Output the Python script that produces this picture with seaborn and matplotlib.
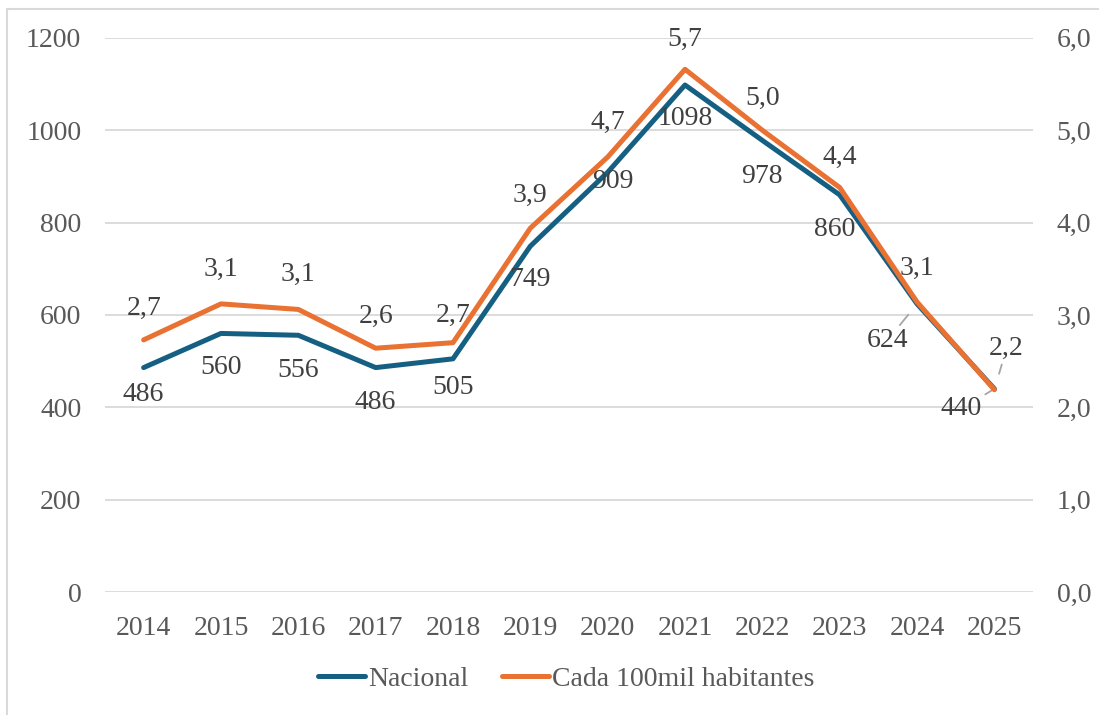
import matplotlib
matplotlib.use("Agg")
import matplotlib.pyplot as plt
import seaborn as sns
import pandas as pd
from matplotlib.lines import Line2D

years = [2014, 2015, 2016, 2017, 2018, 2019, 2020, 2021, 2022, 2023, 2024, 2025]
nacional = [486, 560, 556, 486, 505, 749, 909, 1098, 978, 860, 624, 440]
tasa = [2.73, 3.12, 3.06, 2.64, 2.70, 3.94, 4.71, 5.66, 5.0, 4.38, 3.14, 2.19]
tasa_labels = ["2,7", "3,1", "3,1", "2,6", "2,7", "3,9", "4,7", "5,7", "5,0", "4,4", "3,1", "2,2"]

# label offsets in pixels (dx, dy)
nac_off = [(0, -27), (0, -34), (0, -35), (0, -35), (0, -29), (0, -33),
           (5, -9), (0, -34), (0, -36), (-5, -35), (-30, -37), (-33, -20)]
tasa_off = [(0, 31), (0, 34), (0, 35), (0, 32), (0, 27), (0, 33),
            (0, 35), (0, 30), (0, 32), (0, 30), (0, 34), (12, 41)]

blue = "#156082"
orange = "#E97132"
gray = "#595959"

sns.set_theme(style="white")
plt.rcParams['font.family'] = ['Liberation Serif', 'DejaVu Serif']

df = pd.DataFrame({"year": years, "nacional": nacional, "tasa": tasa})

fig = plt.figure(figsize=(10.99, 7.15), dpi=100)
ax = fig.add_axes([0.0955, 0.172, 0.8445, 0.775])
ax2 = ax.twinx()

sns.lineplot(data=df, x="year", y="nacional", ax=ax, color=blue, linewidth=3.6,
             label="Nacional", legend=False)
sns.lineplot(data=df, x="year", y="tasa", ax=ax2, color=orange, linewidth=3.6,
             label="Cada 100mil habitantes", legend=False)

ax.set_ylim(0, 1200)
ax2.set_ylim(0, 6)
ax.set_xlim(2013.5, 2025.5)
ax.set_yticks(range(0, 1201, 200))
ax2.set_yticks([0, 1, 2, 3, 4, 5, 6])
ax2.set_yticklabels([f"{v:.1f}".replace(".", ",") for v in range(7)])
ax.set_xticks(years)
ax.set_xticklabels([str(y) for y in years])
ax.set_xlabel("")
ax.set_ylabel("")
ax2.set_ylabel("")

ax.grid(axis="y", color="#D9D9D9", linewidth=1.3)
ax.set_axisbelow(True)
for a in (ax, ax2):
    for s in a.spines.values():
        s.set_visible(False)
    a.tick_params(length=0, labelsize=20, colors=gray)
ax.tick_params(axis="y", pad=17)
ax2.tick_params(axis="y", pad=17)
ax.tick_params(axis="x", pad=17)

for i, (x, v) in enumerate(zip(years, nacional)):
    dx, dy = nac_off[i]
    kw = {}
    if i >= 10:
        kw = dict(arrowprops=dict(arrowstyle="-", color="#A6A6A6", lw=1.3,
                                  shrinkA=0, shrinkB=10))
    ax.annotate(str(v), (x, v), xytext=(dx, dy), textcoords="offset pixels",
                ha="center", va="center", fontsize=20, color="#404040", **kw)

for i, (x, v) in enumerate(zip(years, tasa)):
    dx, dy = tasa_off[i]
    kw = {}
    if i == 11:
        kw = dict(arrowprops=dict(arrowstyle="-", color="#A6A6A6", lw=1.3,
                                  shrinkA=0, shrinkB=12))
    ax2.annotate(tasa_labels[i], (x, v), xytext=(dx, dy), textcoords="offset pixels",
                 ha="center", va="center", fontsize=20, color="#404040", **kw)

handles = [Line2D([], [], color=blue, lw=3.6, solid_capstyle="round"),
           Line2D([], [], color=orange, lw=3.6, solid_capstyle="round")]
fig.legend(handles, ["Nacional", "Cada 100mil habitantes"], loc="center",
           bbox_to_anchor=(0.515, 0.05), ncol=2, frameon=False, fontsize=20,
           labelcolor=gray, handlelength=1.7, handletextpad=0.1, columnspacing=1.2)

# outer border (left and top only visible)
fig.add_artist(Line2D([0.0065, 0.0065], [0, 0.987], transform=fig.transFigure,
                      color="#D9D9D9", lw=1.5))
fig.add_artist(Line2D([0.0065, 1.0], [0.987, 0.987], transform=fig.transFigure,
                      color="#D9D9D9", lw=1.5))

fig.savefig("out.png", dpi=100)
